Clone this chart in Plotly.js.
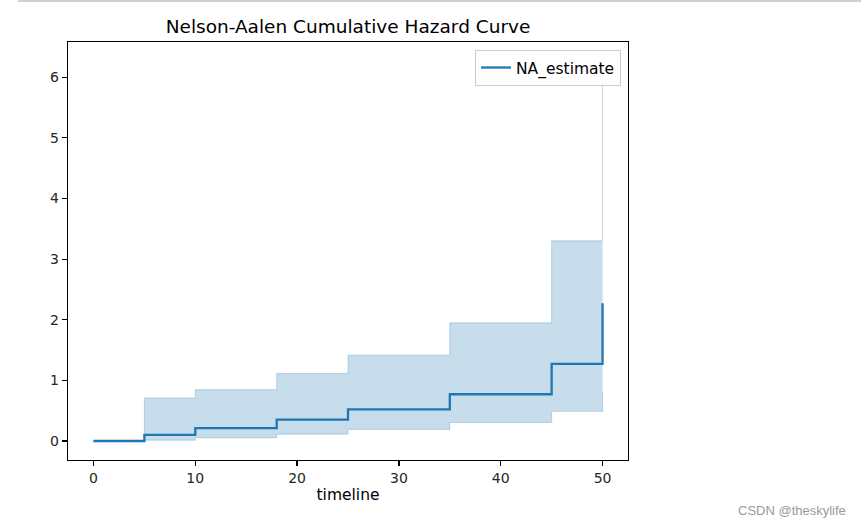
<!DOCTYPE html>
<html>
<head>
<meta charset="utf-8">
<script src="https://cdn.plot.ly/plotly-3.0.1.min.js"></script>
<style>html,body{margin:0;padding:0;background:#fff;}#chart{width:861px;height:528px;}</style>
</head>
<body>
<div id="chart"></div>
<script>
// Event times (timeline)
const timeline = [0, 5, 10, 18, 25, 35, 45, 50];
// Nelson-Aalen cumulative hazard estimate
const naEstimate = [0, 0.100, 0.211, 0.354, 0.521, 0.771, 1.271, 2.271];
// 95% confidence interval bounds
const ciLower = [0, 0.014, 0.053, 0.113, 0.192, 0.305, 0.489, 0.823];
const ciUpper = [0, 0.710, 0.846, 1.112, 1.415, 1.949, 3.301, 6.266];
const xTicks = [0, 10, 20, 30, 40, 50];
const yTicks = [0, 1, 2, 3, 4, 5, 6];

const blue = '#1f77b4';
const band = 'rgba(31,119,180,0.25)';
const font = 'DejaVu Sans, sans-serif';

const traces = [
  {x: timeline, y: ciLower, type: 'scatter', mode: 'lines', line: {shape: 'hv', color: band, width: 1},
   showlegend: false, hoverinfo: 'skip'},
  {x: timeline, y: ciUpper, type: 'scatter', mode: 'lines', line: {shape: 'hv', color: band, width: 1},
   fill: 'tonexty', fillcolor: band, showlegend: false, hoverinfo: 'skip'},
  {x: timeline, y: naEstimate, type: 'scatter', mode: 'lines', name: 'NA_estimate',
   line: {shape: 'hv', color: blue, width: 2.3}}
];

const axisCommon = {
  showgrid: false, zeroline: false, showline: true, mirror: true,
  linecolor: '#000', linewidth: 1.2, ticks: 'outside', ticklen: 5, tickwidth: 1.2, tickcolor: '#000',
  tickfont: {family: font, size: 14, color: '#262626'}
};

const layout = {
  width: 861, height: 528,
  margin: {l: 68, r: 233, t: 42, b: 68},
  paper_bgcolor: '#fff', plot_bgcolor: '#fff',
  title: {text: 'Nelson-Aalen Cumulative Hazard Curve', font: {family: font, size: 18.5, color: '#000'},
          x: 0.5, xref: 'paper', xanchor: 'center', y: 1, yref: 'paper', yanchor: 'bottom', pad: {b: 9}},
  xaxis: Object.assign({}, axisCommon, {range: [-2.5, 52.5], tickvals: xTicks,
          title: {text: 'timeline', font: {family: font, size: 15.5, color: '#000'}, standoff: 4}}),
  yaxis: Object.assign({}, axisCommon, {range: [-0.313, 6.58], tickvals: yTicks}),
  legend: {x: 0.9875, y: 0.981, xanchor: 'right', yanchor: 'top', bgcolor: 'rgba(255,255,255,0.8)',
           bordercolor: '#cccccc', borderwidth: 1, font: {family: font, size: 15.5, color: '#000'}},
  shapes: [{type: 'line', xref: 'paper', yref: 'paper', x0: -0.089, x1: 1.42, y0: 1.098, y1: 1.098,
            line: {color: '#d0d0d0', width: 2}}],
  annotations: [{text: 'CSDN @theskylife', xref: 'paper', yref: 'paper', x: 1.393, y: -0.12,
                 xanchor: 'right', yanchor: 'middle', showarrow: false,
                 font: {family: 'Liberation Sans, Arial, sans-serif', size: 13, color: '#9a9a9a'}}]
};

Plotly.newPlot('chart', traces, layout, {displayModeBar: false, staticPlot: true});
</script>
</body>
</html>
